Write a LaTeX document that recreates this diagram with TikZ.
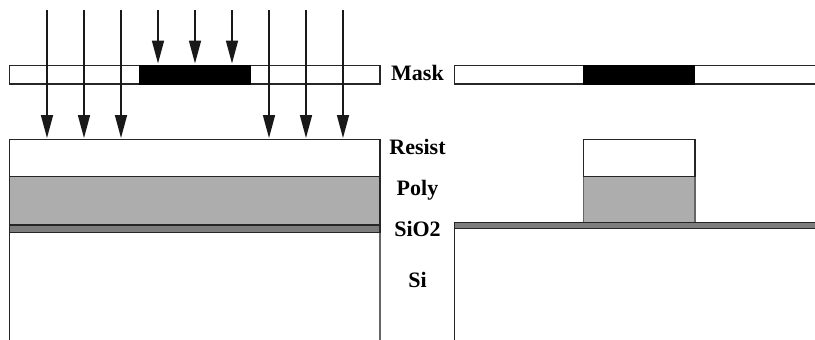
\documentclass[tikz,border=0pt]{standalone}
\usepackage{fontspec}
\setmainfont{Liberation Serif}
\usetikzlibrary{arrows.meta}
\definecolor{polygray}{gray}{0.68}
\definecolor{oxgray}{gray}{0.49}
\tikzset{
  x=1pt,y=-1pt,
  layer/.style={draw=black!85,line width=1.3pt},
  ray/.style={draw=black!90,line width=1.6pt,-{Triangle[length=23pt,width=12pt]},shorten >=0pt},
  lbl/.style={font=\bfseries\fontsize{22}{22}\selectfont,inner sep=0pt,anchor=base}
}
\begin{document}
\begin{tikzpicture}
\useasboundingbox (0,0) rectangle (815,340);
% left mask
\draw[layer,fill=white] (9.5,65.5) rectangle (380,84);
\fill[black] (139,65) rectangle (251,84.5);
% left stack
\draw[layer,fill=white] (9.5,139.5) rectangle (380,176.5);
\draw[layer,fill=polygray] (9.5,176.5) rectangle (380,225);
\draw[layer,fill=oxgray] (9.5,225) rectangle (380,232.5);
\draw[layer] (9.5,232.5) -- (9.5,340);
\draw[layer,black!60] (380,232.5) -- (380,340);
% right mask
\draw[layer,fill=white] (815.6,65.5) -- (454.5,65.5) -- (454.5,84) -- (815.6,84);
\fill[black] (583,65) rectangle (695,84.5);
% right stack
\draw[layer,black!60,fill=polygray] (583.5,176.5) rectangle (695,222.5);
\draw[layer] (583.5,176.5) -- (583.5,139.5) -- (695,139.5) -- (695,176.5) -- cycle;
\draw[layer,fill=oxgray] (815.6,222.5) -- (454.5,222.5) -- (454.5,228.5) -- (815.6,228.5);
\draw[layer] (454.5,228.5) -- (454.5,340);
% labels
\node[lbl] (mask) at (417.5,80.5) {Mask};
\node[lbl] (resist) at (417.5,154) {Resist};
\node[lbl] (poly) at (417.5,195.5) {Poly};
\node[lbl] (sio) at (417.5,236.5) {SiO2};
\node[lbl] (si) at (417.5,287) {Si};
% rays through the open parts of the mask
\foreach \n/\x in {a/47,b/84,c/121,d/269,e/306,f/343}{
  \coordinate (s\n) at (\x,10);
  \coordinate (t\n) at (\x,138);
  \draw[ray] (s\n) -- (t\n);
}
% rays stopped by the mask
\foreach \n/\x in {g/158,h/195,i/232}{
  \coordinate (s\n) at (\x,10);
  \coordinate (t\n) at (\x,63.5);
  \draw[ray] (s\n) -- (t\n);
}
\end{tikzpicture}
\end{document}
